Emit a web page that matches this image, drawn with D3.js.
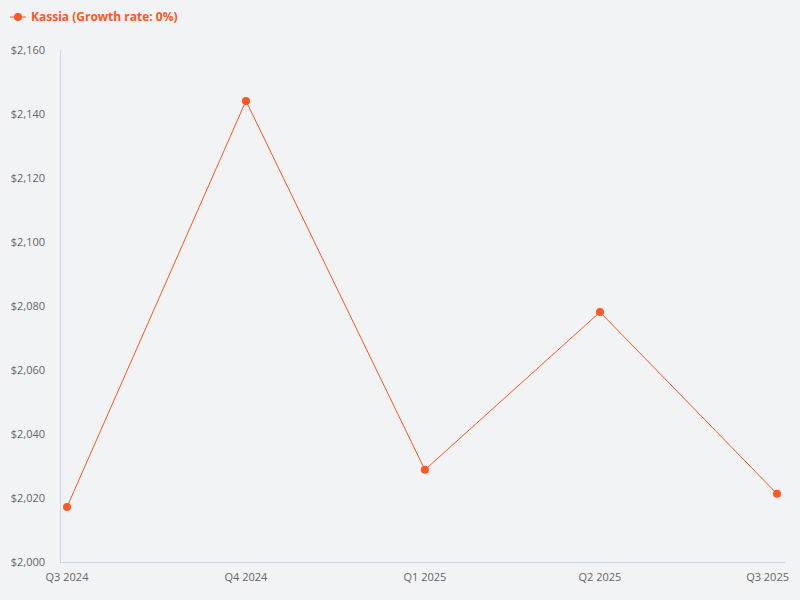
<!DOCTYPE html>
<html><head><meta charset="utf-8">
<script src="https://cdn.jsdelivr.net/npm/d3@7"></script>
<style>
html,body{margin:0;padding:0;background:#f2f3f5;}
svg{display:block;font-family:"Open Sans","Noto Sans",sans-serif;}
</style></head>
<body><svg id="c" width="800" height="600"></svg>
<script>
const categories = ["Q3 2024","Q4 2024","Q1 2025","Q2 2025","Q3 2025"];
const quarterStarts = ["2024-07-01","2024-10-01","2025-01-01","2025-04-01","2025-07-01"];
const values = [2017.2, 2144.1, 2028.8, 2078.1, 2021.3];
const yTicks = [2000,2020,2040,2060,2080,2100,2120,2140,2160];
const seriesName = "Kassia (Growth rate: 0%)";
const color = "#ff5722";

(function(){
const svg = d3.select("#c");
const mLeft = 60, mRight = 785, mTop = 50, mBottom = 562;
const parse = d3.utcParse("%Y-%m-%d");
const dates = quarterStarts.map(parse);
const x = d3.scaleUtc().domain([dates[0], dates[dates.length - 1]]).range([67, 777]);
const y = d3.scaleLinear().domain([2000, 2160]).range([mBottom, mTop]);
const fmt = v => "$" + d3.format(",")(v);

// axes lines
svg.append("line").attr("x1", mLeft + 0.5).attr("x2", mLeft + 0.5).attr("y1", mTop).attr("y2", mBottom)
  .attr("stroke", "#ccd6eb").attr("stroke-width", 1);
svg.append("line").attr("x1", mLeft).attr("x2", mRight).attr("y1", mBottom + 0.5).attr("y2", mBottom + 0.5)
  .attr("stroke", "#ccd6eb").attr("stroke-width", 1);

// y labels
svg.append("g").selectAll("text").data(yTicks).join("text")
  .attr("x", 45).attr("y", d => y(d)).attr("dy", "0.35em")
  .attr("text-anchor", "end").attr("font-size", 11).attr("fill", "#666")
  .text(fmt);

// x labels
svg.append("g").selectAll("text").data(categories).join("text")
  .attr("x", (d, i) => i === categories.length - 1 ? 789 : x(dates[i]))
  .attr("y", 581)
  .attr("text-anchor", (d, i) => i === categories.length - 1 ? "end" : "middle")
  .attr("font-size", 11).attr("fill", "#666")
  .text(d => d);

// line
const data = categories.map((c, i) => ({c, t: dates[i], v: values[i]}));
svg.append("path").datum(data)
  .attr("fill", "none").attr("stroke", color).attr("stroke-width", 1)
  .attr("d", d3.line().x(d => x(d.t)).y(d => y(d.v)));
svg.append("g").selectAll("circle").data(data).join("circle")
  .attr("cx", d => x(d.t)).attr("cy", d => y(d.v)).attr("r", 4).attr("fill", color);

// legend
const lg = svg.append("g");
lg.append("line").attr("x1", 10).attr("x2", 26).attr("y1", 17).attr("y2", 17)
  .attr("stroke", color).attr("stroke-width", 1);
lg.append("circle").attr("cx", 18).attr("cy", 17).attr("r", 4).attr("fill", color);
lg.append("text").attr("x", 31).attr("y", 17).attr("dy", "0.35em")
  .attr("font-size", 12).attr("font-weight", "bold").attr("fill", color)
  .text(seriesName);
})();
</script></body></html>
